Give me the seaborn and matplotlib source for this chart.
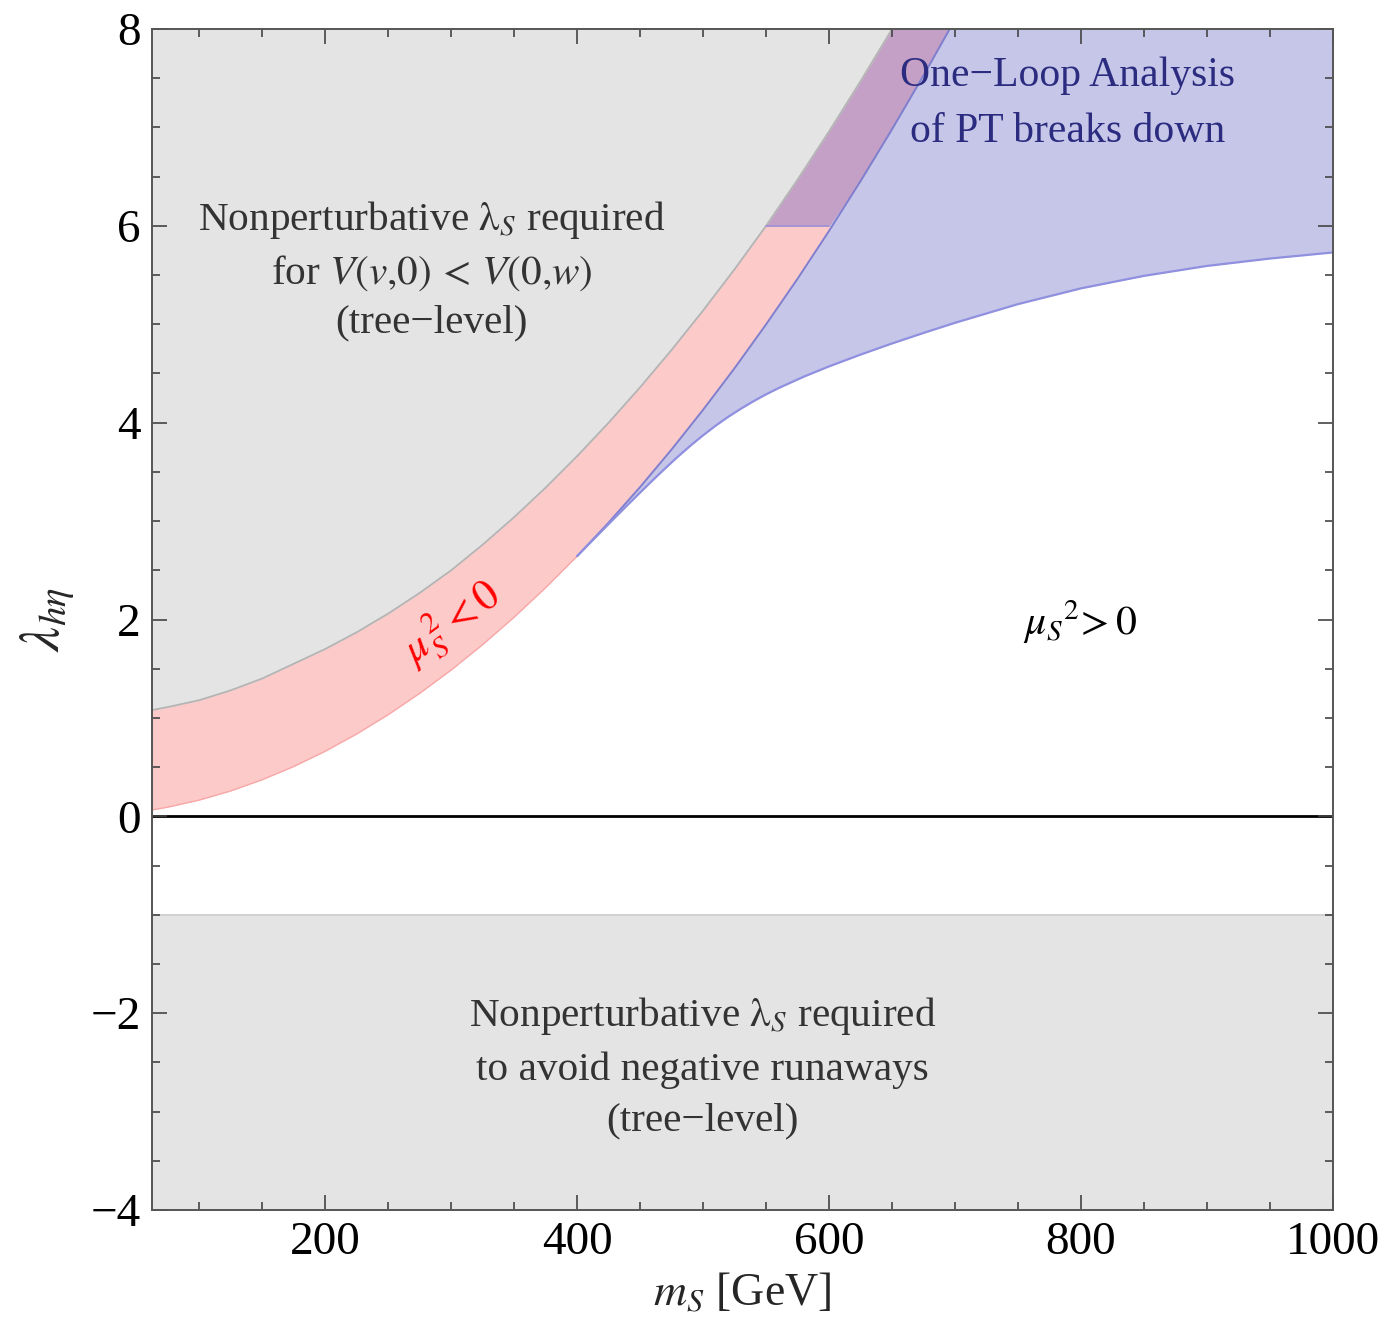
import numpy as np
import pandas as pd
import matplotlib
matplotlib.use("Agg")
import matplotlib.pyplot as plt
from matplotlib.ticker import MultipleLocator
import seaborn as sns

# Singlet mass grid [GeV]
m_s = [62.5, 75, 100, 125, 150, 175, 200, 225, 250, 275, 300, 325, 350,
       375, 400, 425, 450, 475, 500, 525, 550, 575, 600, 625, 650, 675, 700]
# Lower edge of the mu_S^2 < 0 band
lam_mu_zero = [0.065, 0.093, 0.165, 0.258, 0.372, 0.506, 0.661, 0.837, 1.033,
               1.250, 1.487, 1.745, 2.024, 2.324, 2.644, 2.985, 3.346, 3.728,
               4.131, 4.554, 4.999, 5.463, 5.949, 6.455, 6.982, 7.529, 8.097]
# Tree-level vacuum-ordering bound (upper grey region starts here)
lam_tree_upper = [1.08, 1.11, 1.18, 1.28, 1.40, 1.55, 1.70, 1.87, 2.06, 2.27,
                  2.50, 2.76, 3.04, 3.34, 3.66, 4.00, 4.36, 4.74, 5.14, 5.56,
                  6.00, 6.47, 6.96, 7.47, 8.00, 8.55, 9.10]

# One-loop breakdown boundary
m_loop = [400, 410, 420, 430, 440, 450, 460, 470, 480, 490, 500, 510, 520,
          530, 540, 550, 560, 580, 600, 625, 650, 675, 700, 750, 800, 850,
          900, 950, 1000]
lam_loop = [2.644, 2.775, 2.905, 3.035, 3.163, 3.290, 3.415, 3.537, 3.655,
            3.767, 3.872, 3.970, 4.060, 4.142, 4.218, 4.288, 4.352, 4.468,
            4.572, 4.692, 4.805, 4.912, 5.015, 5.205, 5.365, 5.492, 5.593,
            5.668, 5.730]

lam_perturbative_cut = 6.0
lam_runaway = -1.0
x_range = (62.5, 1000)
y_range = (-4, 8)

sns.set_theme(style="ticks")
plt.rcParams["font.family"] = ["Liberation Serif", "DejaVu Serif"]
plt.rcParams["mathtext.fontset"] = "stix"

fig = plt.figure(figsize=(13.83, 13.27), dpi=100)
ax = fig.add_axes([0.1099, 0.0882, 0.8539, 0.8899])

M = np.array(m_s)
L0 = np.array(lam_mu_zero)
LT = np.array(lam_tree_upper)
ML = np.array(m_loop)
LL = np.array(lam_loop)

grey = "#e4e4e4"
pink = "#fdcaca"
purple = "#c4a0c6"
blue = "#c6c6e9"

# bottom grey region: runaway directions
ax.fill_between(list(x_range), [y_range[0]] * 2, [lam_runaway] * 2,
                color=grey, lw=0, zorder=0.5)
ax.axhline(lam_runaway, color="#d2d2d2", lw=1.5, zorder=0.6)

# one-loop breakdown region
ax.fill_between(ML, LL, y_range[1], color=blue, lw=0, zorder=0.5)

# mu_S^2 < 0 band below the perturbative cut
top_pink = np.minimum(LT, lam_perturbative_cut)
ax.fill_between(M, L0, top_pink, where=top_pink >= L0, interpolate=True,
                color=pink, lw=0, zorder=0.8)
# band above the cut overlapping the one-loop region
bot_pur = np.maximum(L0, lam_perturbative_cut)
top_pur = np.minimum(LT, y_range[1])
ax.fill_between(M, bot_pur, top_pur, where=top_pur >= bot_pur, interpolate=True,
                color=purple, lw=0, zorder=0.8)

# upper grey region
ax.fill_between(M, LT, y_range[1], color=grey, lw=0, zorder=1.0)

# edges
edge_df = pd.DataFrame({"m": M, "lo": L0, "up": LT})
sns.lineplot(data=edge_df, x="m", y="up", ax=ax, color="#b4b4b4", lw=1.3,
             zorder=1.5, sort=False)
sns.lineplot(data=edge_df[edge_df.m <= 400], x="m", y="lo", ax=ax,
             color="#f8a8a8", lw=1.0, zorder=1.5, sort=False)
sns.lineplot(data=edge_df[edge_df.m >= 400], x="m", y="lo", ax=ax,
             color="#7f7fcf", lw=1.4, zorder=1.5, sort=False)
loop_df = pd.DataFrame({"m": ML, "lam": LL})
sns.lineplot(data=loop_df, x="m", y="lam", ax=ax, color="#9090e0", lw=1.6,
             zorder=1.5, sort=False)
ax.plot([550, 600], [lam_perturbative_cut] * 2, color="#9c8fd6", lw=1.2,
        zorder=1.5)

ax.axhline(0, color="black", lw=2.0, zorder=2)

ax.set_xlim(*x_range)
ax.set_ylim(*y_range)
ax.xaxis.set_major_locator(MultipleLocator(200))
ax.xaxis.set_minor_locator(MultipleLocator(50))
ax.yaxis.set_major_locator(MultipleLocator(2))
ax.yaxis.set_minor_locator(MultipleLocator(0.5))
ax.tick_params(which="both", direction="in", top=True, right=True,
               colors="#444444", labelcolor="black", labelsize=34, width=1.2)
ax.tick_params(which="major", length=11, pad=8)
ax.tick_params(which="minor", length=6)
ax.set_yticks([-4, -2, 0, 2, 4, 6, 8])
ax.set_yticklabels(["\u22124", "\u22122", "0", "2", "4", "6", "8"])
for s in ax.spines.values():
    s.set_color("#555555")
    s.set_linewidth(1.4)
    s.set_zorder(6)
ax.xaxis.set_zorder(5)
ax.yaxis.set_zorder(5)

ax.set_xlabel(r"$m_S$ [GeV]", fontsize=33, labelpad=6)
ax.set_ylabel(r"$\lambda_{h\eta}$", fontsize=40, labelpad=10)

ax.text(284.7, 5.55,
        "Nonperturbative $\\mathrm{\\lambda}_S$ required\n"
        "for $V(v{,}\\mathit{0})\\,<\\,V(\\mathit{0}{,}w)$\n(tree\u2212level)",
        ha="center", va="center", fontsize=29.7, color="#333333",
        linespacing=1.4, zorder=6)
ax.text(499.8, -2.55,
        "Nonperturbative $\\mathrm{\\lambda}_S$ required\n"
        "to avoid negative runaways\n(tree\u2212level)",
        ha="center", va="center", fontsize=29.7, color="#333333",
        linespacing=1.5, zorder=6)
ax.text(789.5, 7.24, "One\u2212Loop Analysis\nof PT breaks down",
        ha="center", va="center", fontsize=30, color="#2b2b80",
        linespacing=1.6, zorder=6)
ax.text(300.6, 1.96, r"$\mu_S^{\,2} < 0$", ha="center", va="center",
        fontsize=31, color="red", rotation=36, zorder=6)
ax.text(799, 1.97, r"$\mu_S{}^2\!> 0$", ha="center", va="center",
        fontsize=30, color="black", zorder=6)

fig.savefig("out.png", dpi=100)
